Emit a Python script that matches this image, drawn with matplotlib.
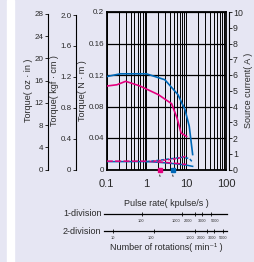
import matplotlib.pyplot as plt
from matplotlib.patches import Rectangle

plt.rcParams['font.family'] = ['Liberation Sans', 'DejaVu Sans']
narrow = ['Liberation Sans Narrow', 'Liberation Sans', 'DejaVu Sans']

# pull-out torque (N·m) against pulse rate (kpulse/s)
blue_x = [0.1, 0.22, 1.0, 2.9, 6.2, 9.3, 11.9, 14.5]
blue_t = [0.118, 0.1215, 0.1215, 0.114, 0.095, 0.076, 0.055, 0.019]
pink_x = [0.1, 0.18, 0.3, 0.69, 2.0, 4.3, 5.9, 7.4, 10.2]
pink_t = [0.106, 0.1076, 0.112, 0.106, 0.095, 0.0835, 0.065, 0.0464, 0.042]

# source current (A)
pink_ilo_x = [0.1, 0.3, 1.0, 1.5, 3.0, 6.0, 10.0]
pink_ilo = [0.53, 0.53, 0.53, 0.5, 0.45, 0.38, 0.32]
pink_ihi_x = [1.5, 3.0, 6.0, 10.0]
pink_ihi = [0.53, 0.6, 0.7, 0.85]
blue_ilo_x = [0.1, 0.3, 1.0, 1.5, 3.0, 6.0, 10.0, 14.5]
blue_ilo = [0.5, 0.5, 0.5, 0.48, 0.42, 0.35, 0.28, 0.2]
blue_ihi_x = [1.0, 2.0, 4.0, 8.0, 12.0, 14.5]
blue_ihi = [0.5, 0.58, 0.68, 0.78, 0.7, 0.45]

fs_pink = 2.2
fs_blue = 4.7

nm_ticks = [0, 0.04, 0.08, 0.12, 0.16, 0.2]
nm_labels = ['0', '0.04', '0.08', '0.12', '0.16', '0.2']
kgf_ticks = [0, 0.4, 0.8, 1.2, 1.6, 2.0]
kgf_labels = ['0', '0.4', '0.8', '1.2', '1.6', '2.0']
oz_ticks = [0, 4, 8, 12, 16, 20, 24, 28]
amp_ticks = [0, 1, 2, 3, 4, 5, 6, 7, 8, 9, 10]
x_ticks = [0.1, 1, 10, 100]
x_labels = ['0.1', '1', '10', '100']
rpm_1div = [100, 1000, 2000, 3000, 5000]
rpm_2div = [10, 100, 1000, 2000, 3000, 5000]
steps_1div = 500
steps_2div = 1000
# label nudges (points) so the small rpm labels do not collide
nudge_1div = [-1, -4.5, -4.5, 0, 3]
nudge_2div = [-0.7, -2, -3.5, -4.3, -1.5, 0]

bg = '#e6e6f3'
blue = '#0068b7'
pink = '#e4007f'
txt = '#2a2a2a'

W, H = 255, 262
fig = plt.figure(figsize=(W / 100, H / 100), dpi=100)
fig.patch.set_facecolor(bg)
fig.add_artist(Rectangle((7 / W, 0), 7 / W, 1, transform=fig.transFigure,
                         color='white', zorder=0))


def px(l, t, r, b):
    return [l / W, 1 - b / H, (r - l) / W, (b - t) / H]


ax = fig.add_axes(px(106.7, 12, 226, 169.5))
ax.set_facecolor(bg)
ax.set_xscale('log')
ax.set_xlim(0.1, 100)
ax.set_ylim(0, 0.2)
ax.grid(True, which='both', axis='x', color='black', lw=0.7)
ax.grid(True, which='major', axis='y', color='black', lw=0.9)
ax.set_xticks(x_ticks, x_labels)
ax.set_yticks(nm_ticks, nm_labels)
ax.tick_params(axis='x', which='both', length=0, pad=7, labelsize=8, colors=txt)
ax.tick_params(axis='y', length=0, pad=2, labelsize=5.8, colors=txt,
               labelfontfamily=narrow)
for s in ax.spines.values():
    s.set_linewidth(1.3)
ax.set_ylabel('Torque( N · m )', fontsize=6.5, color=txt, labelpad=1)

ax.plot(blue_x, blue_t, color=blue, lw=1.2, zorder=5)
ax.plot(pink_x, pink_t, color=pink, lw=1.2, zorder=5)

# current axis
axc = ax.twinx()
axc.set_ylim(0, 10)
axc.set_yticks(amp_ticks)
for k in ['top', 'bottom', 'left']:
    axc.spines[k].set_visible(False)
axc.spines['right'].set_position(('outward', 2))
axc.spines['right'].set_linewidth(0.8)
axc.tick_params(axis='y', length=2, width=0.7, pad=1, labelsize=6.3,
                colors=txt, labelfontfamily=narrow)
axc.set_ylabel('Source current( A )', fontsize=6.5, color=txt, labelpad=0.5)
axc.plot(blue_ilo_x, blue_ilo, color=blue, lw=1.1, zorder=4)
axc.plot(pink_ilo_x, pink_ilo, color=pink, lw=1.1, ls=(0, (4, 1.5)), zorder=4)
axc.plot(blue_ihi_x, blue_ihi, color=blue, lw=1.1, ls=(0, (2, 1.2)), zorder=4)
axc.plot(pink_ihi_x, pink_ihi, color=pink, lw=1.1, ls=(0, (2, 1.2)), zorder=4)
axc.plot([fs_pink], [0], 's', ms=2.2, color=pink, clip_on=False, zorder=6)
axc.plot([fs_blue], [0], 's', ms=2.2, color=blue, clip_on=False, zorder=6)
for f in [fs_pink, fs_blue]:
    axc.annotate('fs', (f, 0), xytext=(0, -5), textcoords='offset points',
                 ha='center', va='center', fontsize=3, color='#555555')

# extra torque scales
nm_per_kgfcm = 0.0980665
nm_per_ozin = 0.00706155
for unit, ticks, labels, out, lab in [
        (nm_per_kgfcm, kgf_ticks, kgf_labels, 22.3, 'Torque( kgf · cm )'),
        (nm_per_ozin, oz_ticks, [str(t) for t in oz_ticks], 42.5,
         'Torque( oz · in )')]:
    a = ax.twinx()
    a.set_ylim(0, 0.2 / unit)
    a.set_yticks(ticks, labels)
    for k in ['top', 'bottom', 'right']:
        a.spines[k].set_visible(False)
    a.spines['left'].set_visible(True)
    a.spines['left'].set_position(('outward', out))
    a.spines['left'].set_bounds(ticks[0], ticks[-1])
    a.spines['left'].set_linewidth(0.8)
    a.yaxis.set_ticks_position('left')
    a.yaxis.set_label_position('left')
    a.tick_params(axis='y', length=2, width=0.7, pad=1, labelsize=5.8,
                  colors=txt, labelfontfamily=narrow)
    a.set_ylabel(lab, fontsize=6.5, color=txt, labelpad=1)

# pulse rate / rotation scales
fig.text(166 / W, 1 - 204 / H, 'Pulse rate( kpulse/s )', ha='center',
         va='center', fontsize=6.5, color=txt)
fig.text(166 / W, 1 - 247 / H, 'Number of rotations( min⁻¹ )', ha='center',
         va='center', fontsize=6.5, color=txt)
for ypos, name, rpm, steps, nudge in [
        (214, '1-division', rpm_1div, steps_1div, nudge_1div),
        (231, '2-division', rpm_2div, steps_2div, nudge_2div)]:
    d = fig.add_axes(px(104, ypos - 0.5, 227, ypos))
    d.patch.set_visible(False)
    d.set_xscale('log')
    d.set_xlim(0.1 * 104 / 106.7, 100 * 1.04)
    d.set_ylim(0, 1)
    for k in ['top', 'left', 'right']:
        d.spines[k].set_visible(False)
    d.spines['bottom'].set_linewidth(0.9)
    d.set_yticks([])
    d.minorticks_off()
    pos = [r * steps / 60000 for r in rpm]
    d.set_xticks(pos, [''] * len(pos))
    d.tick_params(axis='x', direction='inout', length=3.5, width=0.7,
                  colors=txt)
    for p, r, n in zip(pos, rpm, nudge):
        d.annotate(str(r), (p, 0), xytext=(n, -5), textcoords='offset points',
                   ha='center', va='center', fontsize=2.8, color=txt,
                   annotation_clip=False)
    fig.text(101.5 / W, 1 - ypos / H, name, ha='right', va='center',
             fontsize=6.5, color=txt)

fig.savefig('out.png', dpi=100, facecolor=fig.get_facecolor())
